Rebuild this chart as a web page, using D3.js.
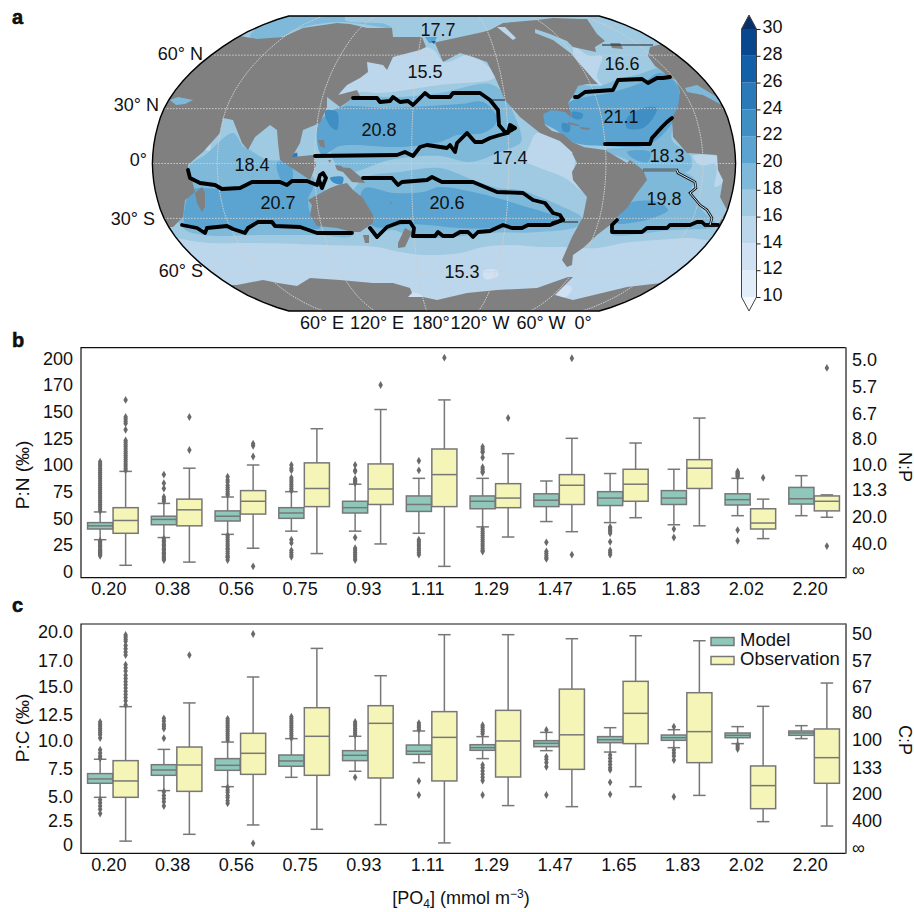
<!DOCTYPE html>
<html lang="en">
<head>
<meta charset="UTF-8">
<title>Ocean stoichiometry</title>
<style>
  html, body { margin: 0; padding: 0; background: #fff; }
  svg { display: block; }
  text { font-family: "Liberation Sans", Arial, sans-serif; font-size: 18px; fill: #111; }
  .axis path, .axis line { display: none; }
  .grid { fill: none; stroke: #cfcfcf; stroke-width: 1; }
</style>
</head>
<body>
<script src="https://d3js.org/d3.v7.min.js"></script>
<script>
// ---- panels b and c ----
var categories = ["0.20","0.38","0.56","0.75","0.93","1.11","1.29","1.47","1.65","1.83","2.02","2.20"];
var seriesNames = ["Model","Observation"];

// [low whisker, q1, median, q3, high whisker]
var pnModelBoxes = [[30,40,43,46,56],[32,44,49,52,64],[35,47.5,52,57,70],[38,50,55,60,75],[38,55,60,66,82],[36,56.5,63,71,87.5],[42,59,66,71,87.5],[47,61,67,73,85],[46,62,69,75,92],[44,63,69,76,96],[52.5,62.5,67.5,73,87.5],[52.5,63.4,68.4,79,90]];
var pnObsBoxes = [[6,36,48,60,94],[9,43,58,68,97],[22,54,66,76,100],[17,61,78,102,134],[26,63,77.5,101,152],[5,61,91,115,161],[32.5,60,69,82.5,110.6],[37.5,63,81,91,125],[50.6,66,82,96,120.6],[43,78,97,105,144],[31,40,45.6,59,68],[51,57,66,71,72]];
var pnModelFliers = [
  [57,59,61,63,65,67,69,71,73,75,77,79,81,83,85,87,89,91,93,95,97,99,101,103,29,28,27,25,24,23,21,20,19,18,17,16,15],
  [91,83,78,70,68,66,31,29,28,26,25,24,22,21,20,18,17,16,14,13,12,11],
  [89,86,84,81,79,77,75,73,72,34,32,30,28,26,24,22,21,19,17,15,14,13,11],
  [100,97,95,88,86,84,82,80,78,76,30,27,20,18,16,14],
  [100,95,94,87,86,85,84,83,32,22,20,18,16,14,12,11],
  [104,95,30,28,26,24,22,20,18,16],
  [117,115,113,112,107,98,96,94,93,40,38,36,34,32,30,28,26,24,22,20,19],
  [27.5,19,17,15,13,12],
  [42,41,39,38,36,28,20,18,16],
  [40,32],
  [94,93,92,91,90,89,39,29],
  []
];
var pnObsFliers = [
  [161,145,143,141,139,133,123,121,119,117,115,113,111,109,107,105,103,101,99,97,95],
  [145,114],[120,118,108,5],[],[175],[200.6],[144],[200,16],[],[],[88],[191,24]
];

var pcModelBoxes = [[4.42,5.74,6.15,6.65,8],[5.05,6.49,6.99,7.49,8.93],[5.42,6.96,7.43,8.06,9.62],[6.3,7.34,7.84,8.4,9.94],[6.87,7.87,8.37,8.81,10.16],[7.68,8.46,8.75,9.34,10.66],[8.06,8.84,9.09,9.37,10.13],[8.81,9.18,9.5,9.75,10.53],[8.68,9.56,9.84,10.13,10.97],[9.09,9.78,10.03,10.28,10.78],[9.47,10.03,10.25,10.47,11.07],[9.94,10.25,10.47,10.66,11.16]];
var pcObsBoxes = [[0.3,4.42,5.96,7.87,12.95],[0.94,4.98,7.46,9.15,13.3],[1.82,6.58,8.56,10.44,15.74],[1.41,6.49,10.16,12.85,18.43],[1.85,6.24,11.38,13.04,15.86],[0.13,5.96,10.06,12.48,19.72],[3.64,6.33,9.72,12.6,19.72],[3.54,7.05,10.3,14.6,19.34],[5.42,9.47,12.32,15.33,19.62],[4.6,7.68,10.6,14.26,19.15],[2.13,3.35,5.52,7.37,12.98],[1.72,5.74,8.15,10.85,15.17]];
var pcModelFliers = [
  [11.5,11.3,11.1,10.9,10.7,10.5,10.3,10,8.9,8.6,8.3,8.1,4.2,3.9,3.6,3.3,2.9],
  [11.85,11.6,11.3,11.1,10.9,9.97,4.95,4.6,4.3,4,3.6],
  [11.8,11.6,11.4,11.2,11,10.8,10.6,10.4,10.2,10,9.8,5.36,5.1,4.9,4.6,4.4,4.1,3.85],
  [12,11.8,11.6,11.4,11.2,11,10.8,10.6,10.4,10.2,10],
  [11.5,11.3,11.1,10.9,10.7,10.5,10.3,6.3],
  [11.4,11.2,11,10.8,5.96,4.64],
  [11.2,11,10.8,10.6,10.4,7.46,7.2,6.9,6.6,6.3,6,4.64],
  [10.75,8.24,8,7.7,7.3,4.64],
  [8.4,8.1,7.8,7.5,7.2,7,5.83,4.7],
  [11.07,8.87,8.6,8.3,7.93,4.48],
  [9.34,9.15,8.97],
  []
];
var pcObsFliers = [
  [19.7,19.5,19.3,19.1,18.7,18.4,18.1,17.8,16.9,16.6,16.3,15.9,15.6,15.3,15,14.7,14.4,14.1,13.8,13.5,13.1],
  [17.8],[19.78,0.09],[],[],[],[],[],[],[],[],[]
];

var pnLeftTicks = [0,25,50,75,100,125,150,175,200];
var pnLeftLabels = ["0","25","50","75","100","125","150","170","200"];
var pnRightTicks = [1.6,26.6,51.6,76.6,100,124.4,148.4,173.4,198.4];
var pnRightLabels = ["∞","40.0","20.0","13.3","10.0","8.0","6.7","5.7","5.0"];
var pcLeftTicks = [0,2.2,4.5,7.15,9.7,12.2,14.8,17.3,20];
var pcLeftLabels = ["0","2.5","5.0","7.5","10.0","12.5","15.0","17.0","20.0"];
var pcRightTicks = [-0.3,2.2,4.8,7.2,9.8,12.4,14.8,17.3,19.8];
var pcRightLabels = ["∞","400","200","133","100","80","67","57","50"];

// ---- panel a: Robinson table and map labels ----
var robLat = [0,5,10,15,20,25,30,35,40,45,50,55,60,65,70,75,80,85,90];
var robLen = [1,0.9986,0.9954,0.99,0.9822,0.973,0.96,0.9427,0.9216,0.8962,0.8679,0.835,0.7986,0.7597,0.7186,0.6732,0.6213,0.5722,0.5322];
var robHgt = [0,0.062,0.124,0.186,0.248,0.31,0.372,0.434,0.4958,0.5571,0.6176,0.6769,0.7346,0.7903,0.8435,0.8936,0.9394,0.9761,1];
var parallels = [-60,-30,0,30,60];
var meridians = [60,120,180,240,300,360];
var latLabels = ["60° N","30° N","0°","30° S","60° S"];
var latLabelX = [203,159,147,155,203];
var latLabelY = [54,105,160,219,271];
var lonLabels = ["60° E","120° E","180°","120° W","60° W","0°"];
var lonLabelX = [322,377,431,480,541,583];
var regionMeans = ["17.7","15.5","16.6","20.8","21.1","18.4","17.4","18.3","20.7","20.6","19.8","15.3"];
var regionX = [438,425,622,379,621,252,510,667,278,447,664,462];
var regionY = [30,72,64,130,117,165,158,156,203,203,199,272];

var cbarLevels = [10,12,14,16,18,20,22,24,26,28,30];
var cbarColors = ["#e1edf8","#cfe1f2","#bcd6ec","#9fcae1","#7fb9da","#5ba3d0","#3f8fc5","#2a79b9","#1460a8","#08478d"];
var landColor = "#808080";

// traced outlines, in map plane units
var bands12 = [
  [[408,292],[423,296],[420,299],[408,298]],
  [[556,295],[566,285],[572,288],[566,297]],
  [[483,271],[497,270],[498,276],[485,279]]
];
var bands14 = [
  [[340,96],[345,85],[362,70],[365,60],[430,48],[445,62],[470,55],[495,77],[440,85],[380,93],[362,92]],
  [[573,47],[590,56],[602,56],[597,77],[603,86],[597,84],[588,74],[573,54]],
  [[110,238],[210,243],[260,243],[327,245],[377,247],[400,252],[427,255],[460,253],[483,247],[513,245],[540,247],[563,247],[597,248],[623,243],[657,240],[690,238],[707,240],[765,238],[775,330],[100,330]],
  [[537,133],[573,153],[575,178],[587,195],[565,178],[540,168],[525,160],[530,145]],
  [[693,156],[718,157],[720,165],[724,180],[715,187],[716,165],[700,165]],
  [[205,137],[209,137],[210,150],[206,150]]
];
var bands18 = [
  [[250,36],[283,14],[345,14],[345,20],[385,24],[392,28],[340,22],[300,28],[283,36],[257,40]],
  [[340,110],[355,98],[400,97],[440,93],[490,84],[505,95],[512,110],[520,130],[521,142],[500,152],[470,162],[440,156],[390,160],[345,172],[330,150]],
  [[365,178],[400,172],[440,168],[473,180],[498,188],[520,190],[540,197],[563,207],[582,218],[578,226],[540,232],[490,233],[440,238],[413,237],[393,230],[373,232],[350,200]],
  [[190,165],[205,155],[233,133],[243,146],[250,150],[268,160],[290,160],[305,170],[325,190],[352,235],[317,235],[260,235],[203,235],[183,228],[173,200]],
  [[643,170],[677,170],[695,180],[690,193],[710,218],[718,225],[712,228],[673,230],[613,235],[612,232],[617,217],[637,193]],
  [[605,150],[650,144],[668,122],[674,118],[672,140],[690,155],[690,170],[645,172],[627,160]],
  [[571,98],[578,86],[600,86],[616,80],[640,74],[660,68],[673,74],[682,92],[675,100]]
];
var bands20 = [
  [[192,190],[222,189],[243,187],[253,182],[293,180],[313,185],[308,200],[312,218],[320,228],[303,228],[273,225],[257,222],[247,232],[232,228],[217,225],[203,228],[185,223],[185,207]],
  [[277,163],[290,163],[292,180],[283,182]],
  [[338,108],[387,108],[460,104],[483,102],[497,117],[495,125],[483,133],[457,135],[440,142],[400,147],[340,146],[322,155],[318,125]],
  [[365,188],[393,193],[423,192],[440,187],[473,192],[497,198],[517,204],[563,220],[550,224],[507,228],[460,228],[413,224],[373,226],[360,200]],
  [[617,215],[630,203],[657,202],[668,210],[653,218],[637,222],[617,223]],
  [[573,100],[613,92],[643,82],[660,73],[675,82],[680,95],[677,115],[650,144],[605,146],[572,142],[556,130],[543,122],[543,113],[552,110],[565,105]],
  [[627,152],[650,152],[648,162],[636,160]]
];
var bands22 = [
  [[325,111],[337,112],[337,130],[330,126]],
  [[627,118],[643,108],[657,108],[653,118],[643,128],[627,128]],
  [[562,123],[570,125],[569,132],[563,131]],
  [[572,112],[583,114],[581,119],[573,118]],
  [[330,178],[343,177],[342,184],[334,183]]
];
var bands24 = [
  [[292,155],[297,153],[296,162],[291,162]]
];
var landShapes = [
  [[120,228],[120,36],[240,36],[257,39],[283,37],[303,28],[337,23],[350,24],[367,28],[392,28],[393,37],[422,37],[426,47],[420,50],[393,57],[387,70],[383,65],[367,62],[368,72],[360,78],[347,85],[338,95],[357,90],[360,96],[353,98],[340,107],[327,97],[327,107],[320,123],[303,130],[300,143],[292,157],[313,155],[316,165],[310,180],[280,160],[278,143],[277,130],[270,125],[255,137],[248,150],[242,143],[233,120],[223,118],[220,133],[203,152],[197,157],[188,165],[188,170],[192,180],[195,192],[185,200],[183,217],[173,227]],
  [[195,193],[202,187],[205,193],[205,207],[202,212],[197,203]],
  [[318,140],[324,140],[325,148],[320,146]],
  [[328,160],[331,160],[330,163]],
  [[335,165],[342,166],[343,172],[337,170]],
  [[338,167],[350,168],[362,178],[365,183],[352,182],[343,172]],
  [[308,200],[330,188],[338,185],[347,183],[353,190],[363,198],[373,215],[373,223],[360,232],[352,232],[337,228],[317,226],[310,215],[312,205]],
  [[363,235],[369,235],[369,243],[365,243]],
  [[390,201],[392,203],[391,204]],
  [[405,228],[412,232],[405,247],[398,248],[398,243]],
  [[225,285],[237,285],[263,280],[278,283],[297,286],[310,278],[340,280],[373,283],[393,283],[410,288],[412,293],[408,297],[423,297],[437,300],[467,293],[497,290],[537,288],[568,277],[573,277],[555,295],[562,297],[573,300],[627,287],[670,282],[700,320],[200,320]],
  [[435,43],[437,42],[460,37],[483,32],[490,30],[503,23],[537,20],[553,18],[580,19],[587,19],[597,34],[605,41],[595,47],[596,52],[573,47],[573,56],[593,79],[598,84],[587,84],[578,86],[573,96],[568,103],[572,118],[565,112],[552,110],[543,114],[545,125],[552,131],[563,134],[572,142],[584,147],[573,153],[560,141],[540,133],[520,117],[505,100],[495,77],[487,62],[473,57],[460,53],[443,62]],
  [[572,153],[583,147],[605,150],[627,163],[630,160],[643,170],[647,180],[637,193],[627,208],[617,217],[610,225],[597,235],[583,248],[573,255],[572,265],[567,267],[562,260],[572,237],[583,217],[587,197],[573,180],[572,172],[577,163]],
  [[568,122],[580,125],[578,126],[568,124]],
  [[580,127],[590,128],[589,130],[581,129]],
  [[610,43],[620,43],[623,49],[612,48]],
  [[662,44],[650,47],[648,56],[655,66],[662,71],[667,76],[676,80],[680,92],[678,107],[672,118],[673,137],[687,153],[717,155],[718,170],[723,180],[720,197],[727,210],[718,225],[770,225],[770,44]]
];
var inlandSeas = [
  {level:4, shape:[[170,100],[178,97],[193,100],[185,104],[176,105]]},
  {level:4, shape:[[685,88],[697,85],[717,97],[722,105],[703,95],[687,92]]},
  {level:3, shape:[[535,29],[550,34],[567,41],[573,47],[573,55],[553,40],[535,33]]},
  {level:2, shape:[[497,27],[505,27],[516,38],[513,40],[503,32]]},
  {level:5, shape:[[425,37],[437,37],[434,43],[429,43]]},
  {level:8, shape:[[431,41],[436,41],[434,44]]}
];
var boundaryLines = [
  [[353,98],[377,98],[380,102],[390,101],[393,97],[400,102],[408,101],[413,105],[420,98],[425,93],[430,97],[450,97],[453,93],[480,93],[490,100],[498,110],[499,125],[505,132],[508,132],[515,128],[510,125],[508,133],[500,135],[490,138],[482,142],[475,142],[467,133],[457,143],[455,152],[450,145],[447,148],[427,145],[420,147],[413,156],[405,152],[397,155],[315,156]],
  [[575,97],[578,97],[585,92],[613,90],[618,80],[642,79],[648,83],[657,78],[663,78],[670,77]],
  [[605,144],[650,144],[652,138],[662,127],[667,122],[672,118]],
  [[188,170],[190,178],[200,183],[215,185],[222,189],[240,188],[252,182],[280,182],[287,185],[292,181],[307,181],[317,185],[320,175],[323,173],[326,178],[322,188],[319,180]],
  [[182,225],[197,228],[205,233],[207,228],[217,227],[227,226],[233,229],[245,233],[248,228],[258,222],[272,222],[275,226],[300,227],[317,233],[352,233]],
  [[370,228],[377,237],[387,227],[400,222],[410,222],[414,228],[413,236],[435,236],[438,232],[443,236],[453,236],[460,232],[468,232],[473,237],[478,232],[490,231],[503,225],[512,228],[522,228],[528,225],[550,225],[563,220]],
  [[363,178],[392,178],[398,185],[402,182],[427,180],[432,177],[442,182],[473,182],[497,192],[523,193],[533,200],[545,203],[553,213],[560,215],[563,220],[553,223]],
  [[617,220],[612,225],[612,232],[642,232],[647,228],[667,228],[670,225],[690,225],[697,222],[702,222],[705,225],[718,225]]
];
var thinLines = [
  [[602,45],[653,45]],
  [[490,100],[505,100]],
  [[563,222],[578,222]],
  [[705,226],[718,226]]
];
var doubleLine = [[643,170],[677,170],[678,173],[695,182],[696,188],[690,193],[700,205],[707,210],[712,218],[710,225]];

// ---- layout ----
var width = 914, height = 912;
var svg = d3.select("body").append("svg").attr("width", width).attr("height", height);

var mapTop = 16, mapBottom = 311, mapMidX = 444, mapMidY = 163.5;
var planeX = d3.scaleLinear().domain([134,738]).range([134,738]);
var planeY = d3.scaleLinear().domain([16,311]).range([mapTop,mapBottom]);
var lenAt = d3.scaleLinear().domain(robLat).range(robLen);
var hgtAt = d3.scaleLinear().domain(robLat).range(robHgt);
var pxPerDeg = 1.62, centralLon = 200, edgeLon = 180;
function robinson(lon, lat) {
  return [mapMidX + pxPerDeg * lon * lenAt(Math.abs(lat)),
          mapMidY - (lat < 0 ? -1 : 1) * (mapBottom - mapTop) / 2 * hgtAt(Math.abs(lat))];
}
var latSteps = d3.range(-90, 91, 5);
var lineGeo = d3.line().x(function(d){return d[0];}).y(function(d){return d[1];});
var linePlane = d3.line().x(function(d){return planeX(d[0]);}).y(function(d){return planeY(d[1]);});
var smoothPlane = d3.line().x(function(d){return planeX(d[0]);}).y(function(d){return planeY(d[1]);}).curve(d3.curveCatmullRomClosed);
var areaPlane = function(s){ return linePlane(s) + "Z"; };

var outline = latSteps.map(function(l){return robinson(edgeLon, l);})
  .concat(latSteps.slice().reverse().map(function(l){return robinson(-edgeLon, l);}));
var outlinePath = lineGeo(outline) + "Z";

svg.append("clipPath").attr("id","globe").append("path").attr("d", outlinePath);
var map = svg.append("g").attr("clip-path","url(#globe)");

map.append("path").attr("d", outlinePath).attr("fill", cbarColors[3]);
function fillBands(shapes, color, path) {
  map.append("g").selectAll("path").data(shapes).join("path")
    .attr("d", path).attr("fill", color);
}
fillBands(bands14, cbarColors[2], smoothPlane);
fillBands(bands12, cbarColors[1], smoothPlane);
fillBands(bands18, cbarColors[4], smoothPlane);
fillBands(bands20, cbarColors[5], smoothPlane);
fillBands(bands22, cbarColors[6], smoothPlane);
fillBands(bands24, cbarColors[7], smoothPlane);
fillBands(landShapes, landColor, areaPlane);
map.append("g").selectAll("path").data(inlandSeas).join("path")
  .attr("d", function(d){return areaPlane(d.shape);})
  .attr("fill", function(d){return cbarColors[d.level];});

// graticule
map.append("g").selectAll("path").data(meridians).join("path")
  .attr("class","grid").attr("stroke-dasharray","1.5 1")
  .attr("d", function(m){
    return lineGeo(latSteps.map(function(l){return robinson(m - centralLon, l);}));
  });
map.append("g").selectAll("path").data(parallels).join("path")
  .attr("class","grid").attr("stroke-dasharray","1.5 1.5")
  .attr("d", function(p){
    return lineGeo([robinson(-edgeLon,p), robinson(edgeLon,p)]);
  });

// boundaries between regions
map.append("g").selectAll("path").data(boundaryLines).join("path")
  .attr("d", linePlane).attr("fill","none").attr("stroke","#000")
  .attr("stroke-width",3.8).attr("stroke-linejoin","round").attr("stroke-linecap","round");
map.append("g").selectAll("path").data(thinLines).join("path")
  .attr("d", linePlane).attr("fill","none").attr("stroke","#222").attr("stroke-width",1);
map.append("path").attr("d", linePlane(doubleLine)).attr("fill","none").attr("stroke","#111").attr("stroke-width",2.6);
map.append("path").attr("d", linePlane(doubleLine)).attr("fill","none").attr("stroke","#cfe1f2").attr("stroke-width",1);

svg.append("path").attr("d", outlinePath).attr("fill","none").attr("stroke","#000").attr("stroke-width",1.4);

svg.append("g").selectAll("text").data(regionMeans).join("text")
  .attr("x", function(d,i){return regionX[i];})
  .attr("y", function(d,i){return regionY[i];})
  .attr("text-anchor","middle").attr("dominant-baseline","central")
  .text(function(d){return d;});
svg.append("g").selectAll("text").data(latLabels).join("text")
  .attr("x", function(d,i){return latLabelX[i];})
  .attr("y", function(d,i){return latLabelY[i];})
  .attr("text-anchor","end").attr("dominant-baseline","central")
  .text(function(d){return d;});
svg.append("g").selectAll("text").data(lonLabels).join("text")
  .attr("x", function(d,i){return lonLabelX[i];})
  .attr("y", 323)
  .attr("text-anchor","middle").attr("dominant-baseline","central")
  .text(function(d){return d;});

// colour bar
var cbarX = 741.5, cbarW = 15;
var cbarY = d3.scaleLinear().domain([10,30]).range([297,29]);
var cbar = svg.append("g");
cbar.selectAll("rect").data(cbarColors).join("rect")
  .attr("x", cbarX).attr("width", cbarW)
  .attr("y", function(d,i){return cbarY(cbarLevels[i+1]);})
  .attr("height", function(d,i){return cbarY(cbarLevels[i]) - cbarY(cbarLevels[i+1]);})
  .attr("fill", function(d){return d;});
var cbarTop = d3.path();
cbarTop.moveTo(cbarX, cbarY(30)); cbarTop.lineTo(cbarX + cbarW/2, 15); cbarTop.lineTo(cbarX + cbarW, cbarY(30)); cbarTop.closePath();
cbar.append("path").attr("d", cbarTop.toString()).attr("fill","#08306b");
var cbarLow = d3.path();
cbarLow.moveTo(cbarX, cbarY(10)); cbarLow.lineTo(cbarX + cbarW/2, 311); cbarLow.lineTo(cbarX + cbarW, cbarY(10)); cbarLow.closePath();
cbar.append("path").attr("d", cbarLow.toString()).attr("fill","#f7fbff");
var cbarFrame = d3.path();
cbarFrame.moveTo(cbarX, cbarY(30)); cbarFrame.lineTo(cbarX + cbarW/2, 15); cbarFrame.lineTo(cbarX + cbarW, cbarY(30));
cbarFrame.lineTo(cbarX + cbarW, cbarY(10)); cbarFrame.lineTo(cbarX + cbarW/2, 311); cbarFrame.lineTo(cbarX, cbarY(10)); cbarFrame.closePath();
cbar.append("path").attr("d", cbarFrame.toString()).attr("fill","none").attr("stroke","#444").attr("stroke-width",1);
var cbarAxis = cbar.append("g").attr("transform","translate(" + (cbarX + cbarW) + ",0)")
  .call(d3.axisRight(cbarY).tickValues(cbarLevels).tickSize(4).tickPadding(2));
cbarAxis.select(".domain").remove();
cbarAxis.selectAll("line").attr("stroke","#222");
cbarAxis.selectAll("text").attr("y",-2).style("font-size","18px").style("font-family","Liberation Sans").style("fill","#111");

// box plot panels
var plotLeft = 81, plotRight = 846;
var x = d3.scaleBand().domain(categories).range([plotLeft, plotRight]);
var hue = d3.scaleBand().domain(seriesNames).range([0, x.bandwidth()]).paddingOuter(0.25);
var boxFill = {Model: "#8fc8bb", Observation: "#f5f5b8"};
var boxGrey = "#777";
var diamond = d3.symbol().type(d3.symbolDiamond).size(18);

function drawSeries(g, y, name, boxes, fliers) {
  var w = hue.bandwidth() - 0.4;
  var groups = g.append("g").selectAll("g").data(categories).join("g")
    .attr("transform", function(c){ return "translate(" + (x(c) + hue(name) + hue.bandwidth()/2) + ",0)"; });
  groups.each(function(c, i) {
    var s = d3.select(this), b = boxes[i];
    s.append("line").attr("y1", y(b[0])).attr("y2", y(b[4])).attr("stroke", boxGrey).attr("stroke-width",1.5);
    [b[0], b[4]].forEach(function(v){
      s.append("line").attr("x1",-w/4).attr("x2",w/4).attr("y1",y(v)).attr("y2",y(v)).attr("stroke",boxGrey).attr("stroke-width",1.5);
    });
    s.append("rect").attr("x",-w/2).attr("width",w).attr("y",y(b[3])).attr("height",y(b[1])-y(b[3]))
      .attr("fill",boxFill[name]).attr("stroke",boxGrey).attr("stroke-width",1.5);
    s.append("line").attr("x1",-w/2).attr("x2",w/2).attr("y1",y(b[2])).attr("y2",y(b[2])).attr("stroke",boxGrey).attr("stroke-width",1.5);
    s.selectAll("path").data(fliers[i]).join("path")
      .attr("d", diamond).attr("fill","#6a6a6a")
      .attr("transform", function(v){ return "translate(0," + y(v) + ")"; });
  });
}

function drawPanel(opt) {
  var y = d3.scaleLinear().domain(opt.domain).range(opt.range);
  var g = svg.append("g");
  drawSeries(g, y, "Model", opt.model, opt.modelFliers);
  drawSeries(g, y, "Observation", opt.obs, opt.obsFliers);

  g.append("path").attr("fill","none").attr("stroke","#111").attr("stroke-width",1.2)
    .attr("d","M" + plotRight + "," + opt.top + "H" + plotLeft + "V" + opt.bottom + "H" + plotRight);
  g.append("line").attr("x1",plotRight).attr("x2",plotRight).attr("y1",opt.top-0.5).attr("y2",opt.bottom+0.5)
    .attr("stroke","#666").attr("stroke-width",1.8);

  g.append("g").attr("class","axis").attr("transform","translate(" + plotLeft + ",0)")
    .call(d3.axisLeft(y).tickValues(opt.leftTicks).tickSize(0).tickPadding(8)
      .tickFormat(function(d,i){return opt.leftLabels[i];}))
    .selectAll("text").style("font-size","18px").style("font-family","Liberation Sans");
  g.append("g").attr("class","axis").attr("transform","translate(" + (plotRight + 6) + ",0)")
    .call(d3.axisRight(y).tickValues(opt.rightTicks).tickSize(0).tickPadding(0)
      .tickFormat(function(d,i){return opt.rightLabels[i];}))
    .selectAll("text").style("font-size","18px").style("font-family","Liberation Sans");
  g.append("g").attr("class","axis").attr("transform","translate(-4," + opt.bottom + ")")
    .call(d3.axisBottom(x).tickSize(0).tickPadding(5))
    .selectAll("text").style("font-size","18px").style("font-family","Liberation Sans");

  g.append("text").attr("transform","translate(" + 22 + "," + opt.leftMid + ") rotate(-90)")
    .attr("text-anchor","middle").attr("dominant-baseline","central").style("font-size","19px").text(opt.leftTitle);
  g.append("text").attr("transform","translate(" + 905 + "," + opt.rightMid + ") rotate(90)")
    .attr("text-anchor","middle").attr("dominant-baseline","central").text(opt.rightTitle);
}

drawPanel({
  domain:[0,200], range:[571.7,358.3], top:347.7, bottom:577.7,
  model:pnModelBoxes, obs:pnObsBoxes, modelFliers:pnModelFliers, obsFliers:pnObsFliers,
  leftTicks:pnLeftTicks, leftLabels:pnLeftLabels, rightTicks:pnRightTicks, rightLabels:pnRightLabels,
  leftTitle:"P:N (‰)", rightTitle:"N:P", leftMid:475, rightMid:467
});
drawPanel({
  domain:[0,20], range:[844.3,631.7], top:624, bottom:853.3,
  model:pcModelBoxes, obs:pcObsBoxes, modelFliers:pcModelFliers, obsFliers:pcObsFliers,
  leftTicks:pcLeftTicks, leftLabels:pcLeftLabels, rightTicks:pcRightTicks, rightLabels:pcRightLabels,
  leftTitle:"P:C (‰)", rightTitle:"C:P", leftMid:728, rightMid:740
});

// legend
var legendY = [641.5,660.5];
var legend = svg.append("g").selectAll("g").data(seriesNames).join("g")
  .attr("transform", function(d,i){ return "translate(711," + legendY[i] + ")"; });
legend.append("rect").attr("y",-4).attr("width",23).attr("height",8)
  .attr("fill", function(d){return boxFill[d];}).attr("stroke",boxGrey).attr("stroke-width",1.5);
legend.append("text").attr("x",29).attr("y",-2).attr("dominant-baseline","central")
  .style("font-size","18.5px").text(function(d){return d;});

// x axis title
var xt = svg.append("text").attr("x",461).attr("y",904).attr("text-anchor","middle");
xt.append("tspan").text("[PO");
xt.append("tspan").attr("dy",4).style("font-size","12px").text("4");
xt.append("tspan").attr("dy",-4).text("] (mmol m");
xt.append("tspan").attr("dy",-6).style("font-size","12px").text("−3");
xt.append("tspan").attr("dy",6).text(")");

// panel letters
var letters = ["a","b","c"], letterY = [24,347,612];
svg.append("g").selectAll("text").data(letters).join("text")
  .attr("x",12).attr("y",function(d,i){return letterY[i];})
  .attr("font-weight","bold").style("font-size","20px").attr("stroke","#000").attr("stroke-width",0.5)
  .text(function(d){return d;});
</script>
</body>
</html>
